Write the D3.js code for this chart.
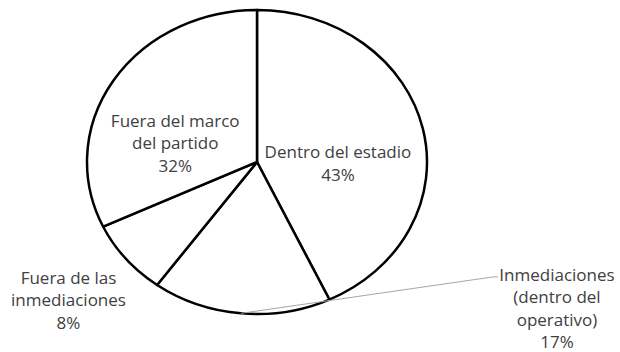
<!DOCTYPE html>
<html>
<head>
<meta charset="utf-8">
<script src="https://cdn.jsdelivr.net/npm/d3@7"></script>
<style>
  body { margin: 0; background: #fff; }
  text { font-family: "Open Sans", "Noto Sans", sans-serif; font-size: 17px; fill: #404040; }
</style>
</head>
<body>
<script>
//Chart data
var categories = ["Dentro del estadio", "Inmediaciones (dentro del operativo)", "Fuera de las inmediaciones", "Fuera del marco del partido"];
var values = [43, 17, 8, 32];
var labelLines = [
  ["Dentro del estadio", "43%"],
  ["Inmediaciones", "(dentro del", "operativo)", "17%"],
  ["Fuera de las", "inmediaciones", "8%"],
  ["Fuera del marco", "del partido", "32%"]
];

//Layout (pixels)
var width = 620,
    height = 352,
    cx = 257, cy = 162,
    rx = 170, ry = 152,
    sx = rx / ry,
    lineH = 22.5;

//label offsets from the slice centroid (at half radius)
var labelOffset = [[-2, 18], [308, 71], [-123, 90], [-10, 22]];

var svg = d3.select("body").append("svg")
    .attr("width", width)
    .attr("height", height);

var pie = d3.pie().sort(null).value(function(d) { return d; });
var slices = pie(values);

var arc = d3.arc().innerRadius(0).outerRadius(ry);
var midArc = d3.arc().innerRadius(ry * 0.5).outerRadius(ry * 0.5);
var edgeArc = d3.arc().innerRadius(ry).outerRadius(ry);

//Pie, stretched into an ellipse
var g = svg.append("g")
    .attr("transform", "translate(" + cx + "," + cy + ") scale(" + sx + ",1)");

g.selectAll("path")
    .data(slices)
    .enter()
    .append("path")
    .attr("d", arc)
    .attr("fill", "#fff")
    .attr("stroke", "#000")
    .attr("stroke-width", 2.5)
    .attr("stroke-linejoin", "round")
    .attr("vector-effect", "non-scaling-stroke");

//leader line for the outside label (slice 1)
var edge = edgeArc.centroid(slices[1]);
var start = [cx + edge[0] * sx, cy + edge[1]];
var mid1 = midArc.centroid(slices[1]);
var lblX = cx + mid1[0] * sx + labelOffset[1][0];
var lblY = cy + mid1[1] + labelOffset[1][1] - 1.5 * lineH;
var textW = 116;
svg.append("path")
    .attr("d", d3.line()([start, [lblX - textW / 2 - 6, lblY + 2], [lblX - textW / 2 - 1, lblY + 2]]))
    .attr("fill", "none")
    .attr("stroke", "#a6a6a6")
    .attr("stroke-width", 1);

//Data labels
var labels = svg.selectAll("text.lbl")
    .data(slices)
    .enter()
    .append("text")
    .attr("class", "lbl")
    .attr("text-anchor", "middle")
    .attr("transform", function(d, i) {
      var c = midArc.centroid(d);
      return "translate(" + (cx + c[0] * sx + labelOffset[i][0]) + "," + (cy + c[1] + labelOffset[i][1]) + ")";
    });

labels.each(function(d, i) {
  var lines = labelLines[i];
  d3.select(this).selectAll("tspan")
    .data(lines)
    .enter()
    .append("tspan")
    .attr("x", 0)
    .attr("y", function(t, j) { return (j - (lines.length - 1) / 2) * lineH; })
    .attr("dy", "0.35em")
    .text(function(t) { return t; });
});
</script>
</body>
</html>
